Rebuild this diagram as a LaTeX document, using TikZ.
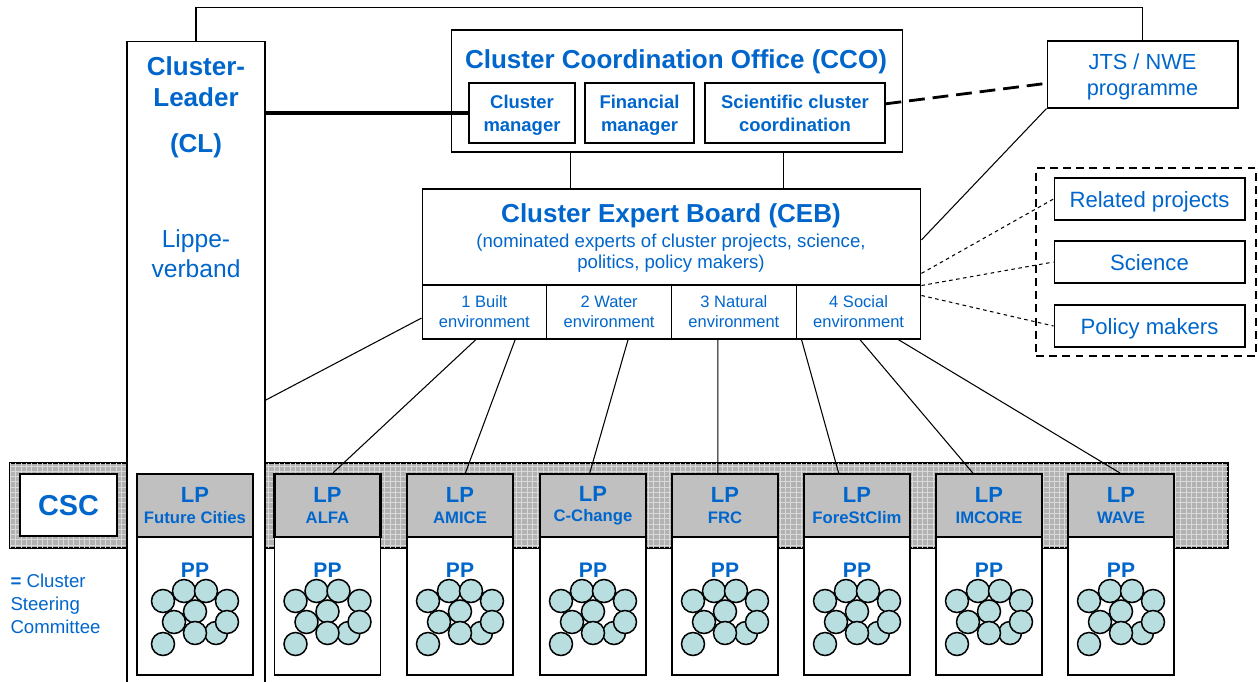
\documentclass[tikz,border=0pt]{standalone}
\usepackage{fontspec}
\setmainfont{Liberation Sans}
\usepackage{xcolor}
\usepackage{tikz}
\usetikzlibrary{calc,patterns}
\definecolor{clublue}{RGB}{0,102,204}
\definecolor{clugray}{RGB}{192,192,192}
\definecolor{cluteal}{RGB}{184,222,224}

\begin{document}
\begin{tikzpicture}[x=0.02cm, y=-0.02cm, line width=0.6pt,
    box/.style={draw, fill=white, inner sep=0pt, align=center, text=clublue, text depth=0pt},
    lpbox/.style={draw, line width=1.2pt, fill=clugray, inner sep=0pt, align=center, text=clublue,
        minimum width=2.12cm, minimum height=1.26cm, font=\bfseries\fontsize{9.5}{11.5}\selectfont},
    ppbox/.style={draw, fill=white, inner sep=0pt, minimum width=2.12cm, minimum height=2.76cm},
    ppcirc/.style={draw, line width=0.85pt, fill=cluteal},
    pptext/.style={text=clublue, inner sep=0pt, font=\bfseries\fontsize{12}{14}\selectfont},
    outbox/.style={box, minimum width=3.82cm, minimum height=0.84cm, text height=10pt, font=\fontsize{12.6}{15}\selectfont},
    envbox/.style={box, minimum width=2.495cm, minimum height=1.08cm, font=\fontsize{9.4}{11.4}\selectfont},
    subbox/.style={box, minimum height=1.2cm, font=\bfseries\fontsize{10.5}{13}\selectfont},
    bigtitle/.style={text=clublue, inner sep=0pt, align=center, font=\bfseries\fontsize{14.8}{17.6}\selectfont},
    jtsdash/.style={line width=1.6pt, dash pattern=on 9pt off 4.5pt},
    groupdash/.style={draw, line width=1.2pt, dash pattern=on 4.5pt off 3pt},
    linkdash/.style={dash pattern=on 2pt off 2pt},
    ppgroup/.pic={
        \path[ppcirc] (21,27) circle[radius=0.23cm];
        \path[ppcirc] (-32,-5) circle[radius=0.23cm];
        \path[ppcirc] (-11,-15) circle[radius=0.23cm];
        \path[ppcirc] (11,-15) circle[radius=0.23cm];
        \path[ppcirc] (32,-5) circle[radius=0.23cm];
        \path[ppcirc] (0,5.5) circle[radius=0.23cm];
        \path[ppcirc] (-21,16) circle[radius=0.23cm];
        \path[ppcirc] (0,27) circle[radius=0.23cm];
        \path[ppcirc] (32,16) circle[radius=0.23cm];
        \path[ppcirc] (-32,38) circle[radius=0.23cm];
        \node[pptext] (-lbl) at (0,-36) {PP};
    }]
    \useasboundingbox (0,0) rectangle (1258,682);

    % Steering committee band
    \node[draw, line width=0.8pt, inner sep=0pt, minimum width=24.36cm, minimum height=1.7cm,
        fill=gray!60, postaction={pattern=grid, pattern color=gray!30}] (band) at (619,505.5) {};
    \node[box, line width=1.2pt, minimum width=1.94cm, minimum height=1.24cm,
        font=\bfseries\fontsize{16.4}{18}\selectfont] (csc) at (68.5,505) {CSC};
    \node[text=clublue, anchor=west, align=left, inner sep=0pt,
        font=\fontsize{10.6}{13}\selectfont] (cscnote) at (10,604) {{\bfseries =} Cluster\\Steering\\Committee};

    % Cluster leader
    \node[box, minimum width=2.76cm, minimum height=13.18cm] (cl) at (196,370.5) {};
    \node[bigtitle] (cltitle) at (196,107) {Cluster-\\Leader\\[8.5pt](CL)};
    \node[text=clublue, inner sep=0pt, align=center, font=\fontsize{14}{17}\selectfont] (clname) at (196,254) {Lippe-\\verband};

    % Coordination office
    \node[box, minimum width=9.04cm, minimum height=2.44cm] (cco) at (677,91) {};
    \node[bigtitle] (ccotitle) at (676,62) {Cluster Coordination Office (CCO)};
    \node[subbox, minimum width=2.12cm] (cman) at (522,113) {Cluster\\manager};
    \node[subbox, minimum width=2.18cm] (fman) at (639.5,113) {Financial\\manager};
    \node[subbox, minimum width=3.6cm] (scc) at (795,113) {Scientific cluster\\coordination};
    \node[box, minimum width=3.82cm, minimum height=1.34cm, font=\fontsize{12.4}{14.8}\selectfont] (jts) at (1142.5,74.5) {JTS / NWE\\programme};

    % Expert board
    \node[box, minimum width=9.98cm, minimum height=1.92cm] (ceb) at (671.5,237) {};
    \node[bigtitle] (cebtitle) at (671,216) {Cluster Expert Board (CEB)};
    \node[text=clublue, inner sep=0pt, align=center, font=\fontsize{10.6}{12}\selectfont] (cebnote) at (671,253.5) {(nominated experts of cluster projects, science,\\politics, policy makers)};
    \node[envbox] (env1) at (484.4,312) {1 Built\\environment};
    \node[envbox] (env2) at (609.1,312) {2 Water\\environment};
    \node[envbox] (env3) at (733.9,312) {3 Natural\\environment};
    \node[envbox] (env4) at (858.6,312) {4 Social\\environment};

    % Outside links
    \node[groupdash, minimum width=4.4cm, minimum height=3.76cm, inner sep=0pt] (outer) at (1146,262) {};
    \node[outbox] (rel) at (1149.5,199) {Related projects};
    \node[outbox] (sci) at (1149.5,262) {Science};
    \node[outbox] (pol) at (1149.5,326) {Policy makers};

    % Lead partners and project partners
    \node[lpbox, minimum width=2.32cm] (future) at (195,505.5) {{\fontsize{12.5}{11.5}\selectfont LP}\\Future Cities};
    \node[lpbox] (alfa) at (327.5,505.5) {{\fontsize{12.5}{11.5}\selectfont LP}\\ALFA};
    \node[lpbox] (amice) at (460,505.5) {{\fontsize{12.5}{11.5}\selectfont LP}\\AMICE};
    \node[lpbox] (cchange) at (593,505.5) {{\fontsize{12.5}{11.5}\selectfont LP}\\C-Change};
    \node[lpbox] (frc) at (725,505.5) {{\fontsize{12.5}{11.5}\selectfont LP}\\FRC};
    \node[lpbox] (forest) at (857,505.5) {{\fontsize{12.5}{11.5}\selectfont LP}\\ForeStClim};
    \node[lpbox] (imcore) at (989,505.5) {{\fontsize{12.5}{11.5}\selectfont LP}\\IMCORE};
    \node[lpbox] (wave) at (1121,505.5) {{\fontsize{12.5}{11.5}\selectfont LP}\\WAVE};

    \node[ppbox, minimum width=2.32cm] (ppfuture) at (195,606) {};
    \node[ppbox] (ppalfa) at (327.5,606) {};
    \node[ppbox] (ppamice) at (460,606) {};
    \node[ppbox] (ppcchange) at (593,606) {};
    \node[ppbox] (ppfrc) at (725,606) {};
    \node[ppbox] (ppforest) at (857,606) {};
    \node[ppbox] (ppimcore) at (989,606) {};
    \node[ppbox] (ppwave) at (1121,606) {};

    \pic (grpfuture) at (ppfuture) {ppgroup};
    \pic (grpalfa) at (ppalfa) {ppgroup};
    \pic (grpamice) at (ppamice) {ppgroup};
    \pic (grpcchange) at (ppcchange) {ppgroup};
    \pic (grpfrc) at (ppfrc) {ppgroup};
    \pic (grpforest) at (ppforest) {ppgroup};
    \pic (grpimcore) at (ppimcore) {ppgroup};
    \pic (grpwave) at (ppwave) {ppgroup};

    % Connections
    \draw (cl.north) -- ++(0,-33) -| (jts.north);
    \draw[line width=2pt] (cl.east |- cman.west) -- (cman.west);
    \draw[jtsdash] ($(scc.north east)!0.35!(scc.south east)$) -- ($(jts.north west)!0.63!(jts.south west)$);
    \draw (jts.south west) -- ($(ceb.north east)!0.53!(ceb.south east)$);
    \coordinate (ccoleft) at ($(cco.south west)!0.265!(cco.south east)$);
    \coordinate (ccoright) at ($(cco.south west)!0.735!(cco.south east)$);
    \draw (ccoleft) -- (ccoleft |- ceb.north);
    \draw (ccoright) -- (ccoright |- ceb.north);
    \draw ($(cl.north east)!0.545!(cl.south east)$) -- ($(env1.north west)!0.61!(env1.south west)$);
    \draw[linkdash] ($(ceb.north east)!0.875!(ceb.south east)$) -- (rel.west);
    \draw[linkdash] (ceb.south east) -- (sci.west);
    \draw[linkdash] ($(env4.north east)!0.2!(env4.south east)$) -- (pol.west);
    \draw ($(env1.south west)!0.433!(env1.south east)$) -- ($(alfa.north west)!0.55!(alfa.north east)$);
    \draw ($(env1.south west)!0.745!(env1.south east)$) -- ($(amice.north west)!0.55!(amice.north east)$);
    \draw ($(env2.south west)!0.651!(env2.south east)$) -- ($(cchange.north west)!0.47!(cchange.north east)$);
    \draw ($(env3.south west)!0.373!(env3.south east)$) -- ($(frc.north west)!0.434!(frc.north east)$);
    \draw ($(env4.south west)!0.046!(env4.south east)$) -- ($(forest.north west)!0.33!(forest.north east)$);
    \draw ($(env4.south west)!0.51!(env4.south east)$) -- ($(imcore.north west)!0.35!(imcore.north east)$);
    \draw ($(env4.south west)!0.815!(env4.south east)$) -- ($(wave.north west)!0.49!(wave.north east)$);
\end{tikzpicture}
\end{document}
